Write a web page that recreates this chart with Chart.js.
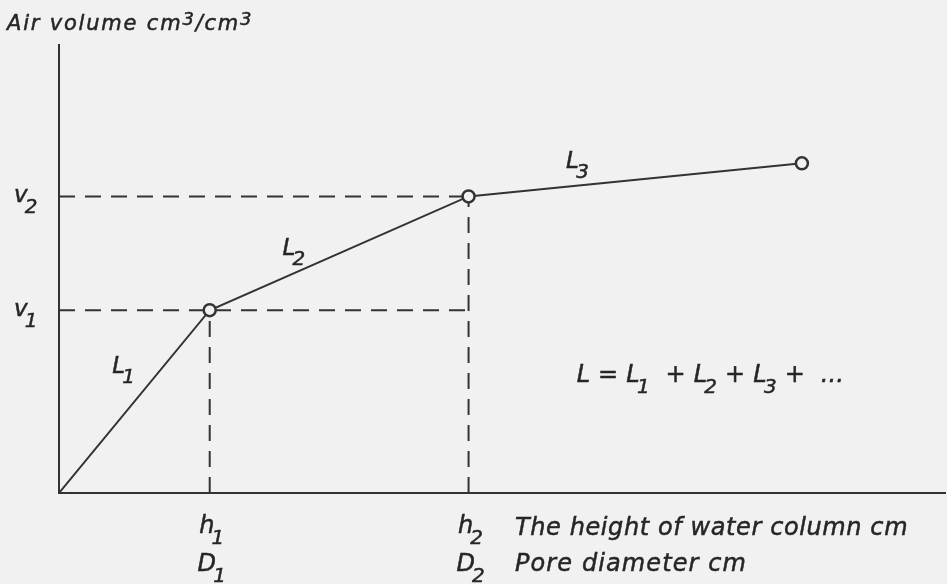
<!DOCTYPE html>
<html>
<head>
<meta charset="utf-8">
<script src="https://cdn.jsdelivr.net/npm/chart.js@4.4.0/dist/chart.umd.min.js"></script>
<style>
    html, body { margin: 0; padding: 0; background: #f1f1f1; overflow: hidden; }
    #wrap { width: 954px; height: 584px; position: relative; }
</style>
</head>
<body>
<div id="wrap"><canvas id="poreChart"></canvas></div>
<script>
// curve points: water column height h vs air volume v (arbitrary units)
const heights = [0, 1.70, 4.62, 8.38];
const airVolumes = [0, 2.04, 3.31, 3.68];
const segmentNames = ['L_1', 'L_2', 'L_3'];
const yTickNames = ['v_1', 'v_2'];
const xTickNames = [['h_1', 'D_1'], ['h_2', 'D_2']];
const yTitle = 'Air volume cm^3/cm^3';
const xTitles = ['The height of water column cm', 'Pore diameter cm'];
const sumFormula = 'L = L_1  + L_2 + L_3 +  ...';

const ink = '#333333';
const textInk = '#262626';
const paper = '#f1f1f1';
const fontFamily = '"DejaVu Sans", sans-serif';

const h1 = heights[1], h2 = heights[2];
const v1 = airVolumes[1], v2 = airVolumes[2];

const curve = heights.map((h, i) => ({ x: h, y: airVolumes[i] }));

const dashed = (pts) => ({
    data: pts,
    borderColor: ink,
    borderWidth: 2,
    borderDash: [16, 10],
    pointRadius: 0,
    fill: false,
    order: 2
});

// draw text with _x subscripts and ^x superscripts
function drawRich(ctx, str, x, y, size, align, spacing) {
    const parts = [];
    let i = 0;
    while (i < str.length) {
        const c = str[i];
        if ((c === '_' || c === '^') && i + 1 < str.length) {
            parts.push({ t: str[i + 1], k: c });
            i += 2;
        } else {
            parts.push({ t: c, k: '' });
            i++;
        }
    }
    const fontFor = k => 'italic ' + (k ? Math.round(size * 0.85) : size) + 'px ' + fontFamily;
    const ls = spacing || 0;
    let w = 0;
    parts.forEach(p => {
        ctx.font = fontFor(p.k);
        p.w = ctx.measureText(p.t).width + ls;
        if (p.k === '_') p.w -= size * 0.12;
        w += p.w;
    });
    let cx = align === 'center' ? x - w / 2 : x;
    ctx.textBaseline = 'alphabetic';
    ctx.textAlign = 'left';
    ctx.strokeStyle = ctx.fillStyle;
    ctx.lineWidth = 0.5;
    parts.forEach(p => {
        ctx.font = fontFor(p.k);
        let dx = 0, dy = 0;
        if (p.k === '_') { dx = -size * 0.12; dy = size * 0.45; }
        if (p.k === '^') { dy = -size * 0.25; }
        ctx.fillText(p.t, cx + dx, y + dy);
        ctx.strokeText(p.t, cx + dx, y + dy);
        cx += p.w;
    });
}

const labelPlugin = {
    id: 'labels',
    afterDraw(chart) {
        const { ctx, scales } = chart;
        const xs = scales.x, ys = scales.y;
        ctx.save();
        ctx.fillStyle = textInk;

        drawRich(ctx, yTitle, 7, 30, 21, 'left', 1.8);

        [v1, v2].forEach((v, i) => {
            drawRich(ctx, yTickNames[i], 14, ys.getPixelForValue(v) + 6, 23, 'left');
        });
        [h1, h2].forEach((h, i) => {
            drawRich(ctx, xTickNames[i][0], xs.getPixelForValue(h) + 2, 533, 24, 'center');
            drawRich(ctx, xTickNames[i][1], xs.getPixelForValue(h) + 2, 571, 24, 'center');
        });
        drawRich(ctx, xTitles[0], 515, 535, 24, 'left', 0.6);
        drawRich(ctx, xTitles[1], 515, 571, 24, 'left', 1.1);

        const segPos = [[0.60, 1.34], [2.52, 2.66], [5.72, 3.63]];
        segmentNames.forEach((s, i) => {
            drawRich(ctx, s, xs.getPixelForValue(segPos[i][0]), ys.getPixelForValue(segPos[i][1]), 23, 'left');
        });
        drawRich(ctx, sumFormula, xs.getPixelForValue(5.84), ys.getPixelForValue(1.24), 24, 'left', 0.2);
        ctx.restore();
    }
};

const axisOpts = (min, max) => ({
    type: 'linear',
    min: min,
    max: max,
    grid: { display: false, drawTicks: false },
    ticks: { display: false },
    border: { display: true, color: ink, width: 2 }
});

new Chart(document.getElementById('poreChart'), {
    type: 'line',
    data: {
        datasets: [
            {
                data: curve,
                borderColor: ink,
                borderWidth: 2,
                tension: 0,
                pointRadius: [0, 6, 6, 6],
                pointBorderWidth: 2.5,
                pointBorderColor: ink,
                pointBackgroundColor: paper,
                order: 1
            },
            dashed([{ x: 0, y: v1 }, { x: h2, y: v1 }]),
            dashed([{ x: 0, y: v2 }, { x: h2, y: v2 }]),
            dashed([{ x: h1, y: 0 }, { x: h1, y: v1 }]),
            dashed([{ x: h2, y: 0 }, { x: h2, y: v2 }])
        ]
    },
    options: {
        responsive: true,
        maintainAspectRatio: false,
        animation: false,
        layout: { padding: { left: 59, right: 0, top: 45, bottom: 91 } },
        plugins: {
            legend: { display: false },
            tooltip: { enabled: false }
        },
        scales: {
            x: axisOpts(0, 10),
            y: axisOpts(0, 5)
        }
    },
    plugins: [labelPlugin]
});
</script>
</body>
</html>
